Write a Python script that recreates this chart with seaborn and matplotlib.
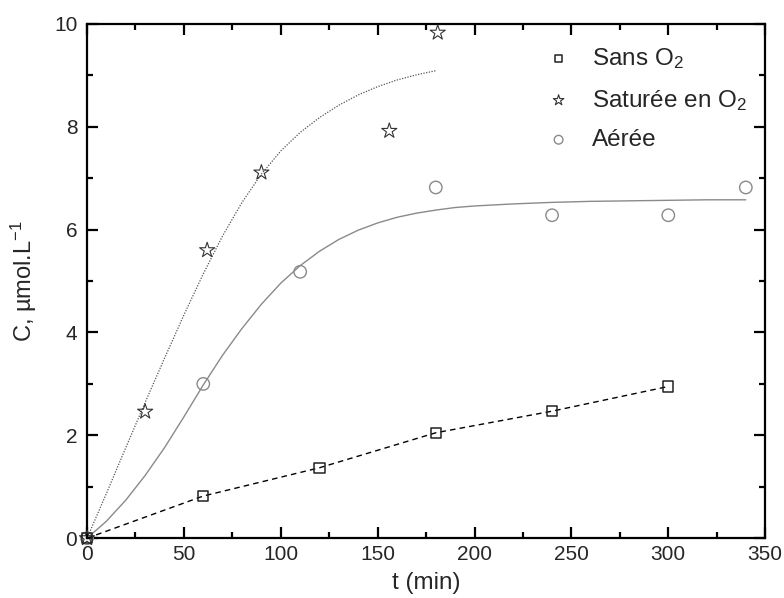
import numpy as np
import pandas as pd
import matplotlib
matplotlib.use("Agg")
import matplotlib.pyplot as plt
import seaborn as sns
from matplotlib.ticker import MultipleLocator

# measured points
t_sans = [0, 60, 120, 180, 240, 300]
c_sans = [0, 0.82, 1.37, 2.05, 2.47, 2.95]

t_sat = [0, 30, 62, 90, 156, 181]
c_sat = [0, 2.46, 5.60, 7.11, 7.92, 9.83]

t_aer = [0, 60, 110, 180, 240, 300, 340]
c_aer = [0, 3.00, 5.18, 6.82, 6.28, 6.28, 6.82]

# fitted curves
t_sat_fit = [0, 10, 20, 30, 40, 50, 60, 70, 80, 90, 100, 110, 120, 130, 140, 150, 160, 170, 180]
c_sat_fit = [0, 0.87, 1.76, 2.64, 3.50, 4.34, 5.14, 5.88, 6.53, 7.08, 7.53, 7.89, 8.18,
             8.42, 8.62, 8.78, 8.91, 9.01, 9.09]

t_aer_fit = [0, 10, 20, 30, 40, 50, 60, 70, 80, 90, 100, 110, 120, 130, 140, 150, 160,
             170, 180, 190, 200, 220, 240, 260, 280, 300, 320, 340]
c_aer_fit = [0, 0.33, 0.74, 1.22, 1.76, 2.36, 2.98, 3.56, 4.08, 4.55, 4.96, 5.30, 5.58,
             5.81, 5.99, 6.13, 6.24, 6.32, 6.38, 6.43, 6.46, 6.50, 6.53, 6.55, 6.56, 6.57,
             6.58, 6.58]

LABELS = ["Sans O$_2$", "Saturée en O$_2$", "Aérée"]

sns.set_style("ticks")
plt.rcParams["font.family"] = ["Liberation Sans", "DejaVu Sans"]
plt.rcParams["mathtext.fontset"] = "custom"
plt.rcParams["mathtext.rm"] = "Liberation Sans"
plt.rcParams["mathtext.it"] = "Liberation Sans"
plt.rcParams["mathtext.default"] = "regular"

fig, ax = plt.subplots(figsize=(7.84, 5.98), dpi=100)
fig.subplots_adjust(left=0.111, right=0.976, bottom=0.1, top=0.96)

df_sans = pd.DataFrame({"t": t_sans, "c": c_sans})
df_sat = pd.DataFrame({"t": t_sat, "c": c_sat})
df_aer = pd.DataFrame({"t": t_aer, "c": c_aer})
df_sat_fit = pd.DataFrame({"t": t_sat_fit, "c": c_sat_fit})
df_aer_fit = pd.DataFrame({"t": t_aer_fit, "c": c_aer_fit})

# lines
sns.lineplot(data=df_sans, x="t", y="c", ax=ax, color="black", lw=1.0,
             linestyle=(0, (4, 3)), estimator=None, sort=False, legend=False)
sns.lineplot(data=df_sat_fit, x="t", y="c", ax=ax, color="#555555", lw=0.9,
             linestyle=(0, (1, 1.2)), estimator=None, sort=False, legend=False)
sns.lineplot(data=df_aer_fit, x="t", y="c", ax=ax, color="#8a8a8a", lw=1.0,
             estimator=None, sort=False, legend=False)

# markers
sns.scatterplot(data=df_aer, x="t", y="c", ax=ax, marker="o", s=80,
                facecolor="none", edgecolor="#8a8a8a", linewidth=1.0,
                label=LABELS[2], clip_on=False, zorder=4)
sns.scatterplot(data=df_sat, x="t", y="c", ax=ax, marker="*", s=130,
                facecolor="none", edgecolor="#333333", linewidth=0.8,
                label=LABELS[1], clip_on=False, zorder=4)
sns.scatterplot(data=df_sans, x="t", y="c", ax=ax, marker="s", s=55,
                facecolor="none", edgecolor="#222222", linewidth=1.1,
                label=LABELS[0], clip_on=False, zorder=5)

ax.set_xlim(0, 350)
ax.set_ylim(0, 10)
ax.xaxis.set_major_locator(MultipleLocator(50))
ax.xaxis.set_minor_locator(MultipleLocator(25))
ax.yaxis.set_major_locator(MultipleLocator(2))
ax.yaxis.set_minor_locator(MultipleLocator(1))

for side in ["top", "right", "bottom", "left"]:
    ax.spines[side].set_visible(True)
    ax.spines[side].set_linewidth(1.6)
    ax.spines[side].set_color("black")

ax.tick_params(which="both", direction="in", top=True, right=True, color="black")
ax.tick_params(which="major", length=8, width=1.6, labelsize=15)
ax.tick_params(which="minor", length=4.5, width=1.6)
ax.tick_params(axis="x", which="major", pad=5)
ax.tick_params(axis="y", which="major", pad=7)

ax.set_xlabel("t (min)", fontsize=17.5, labelpad=6)
ax.set_ylabel("C, µmol.L$^{-1}$", fontsize=17, labelpad=11)

handles, labels = ax.get_legend_handles_labels()
order = [labels.index(l) for l in LABELS]
ax.legend([handles[i] for i in order], [labels[i] for i in order],
          loc="upper left", bbox_to_anchor=(0.666, 0.943),
          bbox_transform=fig.transFigure, frameon=False, fontsize=17.5,
          borderpad=0, labelspacing=0.68, markerscale=0.7, scatterpoints=1,
          handletextpad=0.37)

plt.savefig("out.png", dpi=100)
